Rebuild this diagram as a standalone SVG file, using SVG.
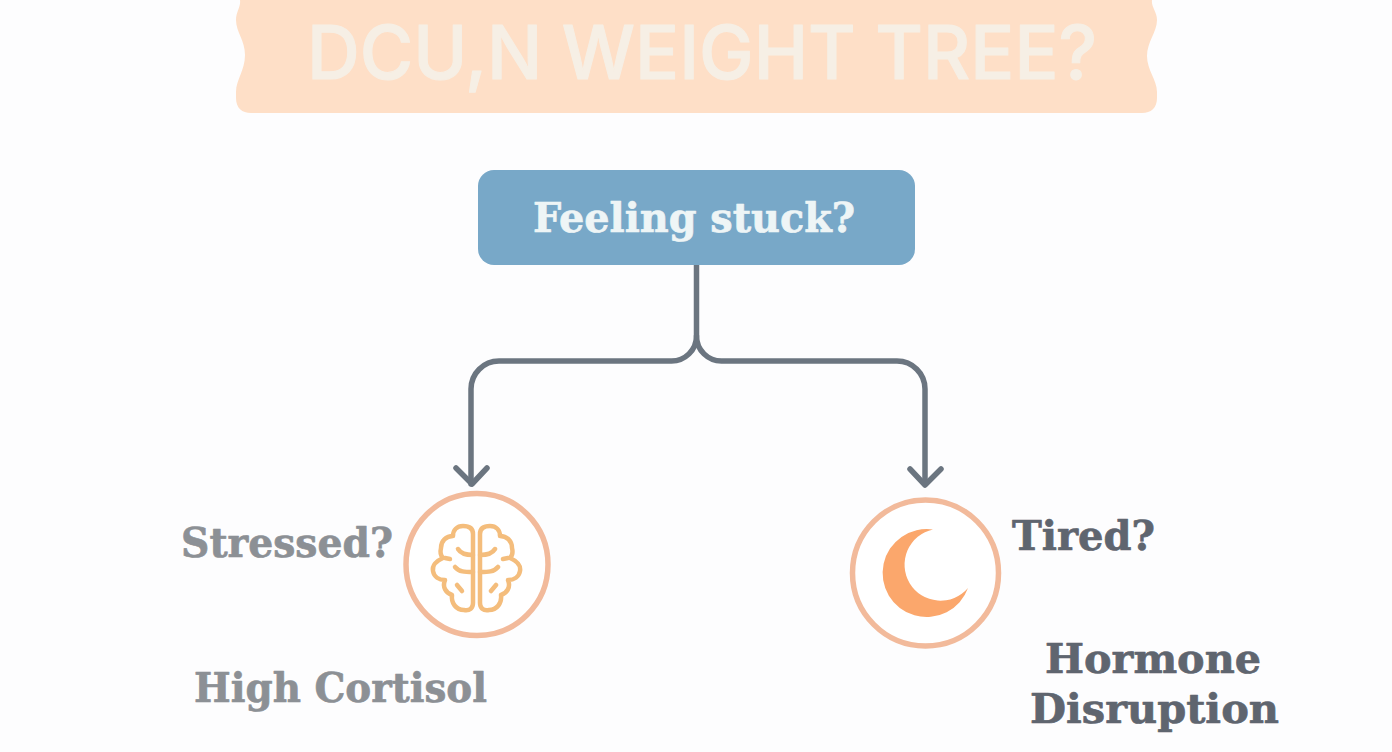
<svg xmlns="http://www.w3.org/2000/svg" width="1392" height="752" viewBox="0 0 1392 752">
<defs>
<style>
.slab{font-family:"DejaVu Serif","Liberation Serif",serif;font-weight:700;stroke-width:.7;stroke-linejoin:round}
.grey{fill:#8c9095;stroke:#8c9095}
.dark{fill:#5f656f;stroke:#5f656f}
.conn{fill:none;stroke:#6b7580;stroke-width:5.500;stroke-linecap:round;stroke-linejoin:round}
.ring{fill:#fff;stroke:#f2ba9b;stroke-width:5.500}
.brain{fill:none;stroke:#f4bd7c;stroke-width:4.500;stroke-linecap:round;stroke-linejoin:round}
</style>
<g id="half">
<path d="M473 534C473 528 469 526 463 526C457 526 453 530 453 536C446 536 441 541 441 548C440 552 441 556 443 558C436 561 432 566 433 571C434 577 439 580 445 580C442 587 446 593 452 595C451 603 456 610 464 610C470 611 473 608 473 603Z"/>
<path d="M458 549C461 554 466 555 473 555M455 567C459 572 465 572 473 572M457 585L462 591M445 558L450 559"/>
</g>
</defs>
<rect width="1392" height="752" fill="#fdfdfe"/>
<g id="title">
<path d="M240 0H1152C1151 7 1157 12 1157 20C1157 32 1147 42 1147 56C1147 70 1157 80 1157 92V98C1157 108 1151 113 1142 113H251C242 113 236 108 236 98V92C236 80 245 70 245 55C245 40 236 32 236 20C236 12 241 7 240 0Z" fill="#fedfc7"/>
<text x="307" y="79" font-family="Inter,'Liberation Sans',sans-serif" font-size="74" font-weight="500" fill="#f6efe5" stroke="#f6efe5" stroke-width="1" stroke-linejoin="round" textLength="790" lengthAdjust="spacingAndGlyphs">DCU,N WEIGHT TREE?</text>
</g>
<g id="connectors">
<path class="conn" d="M696.500 265V336A25 25 0 0 1 671 361H499A28 28 0 0 0 471 389V484"/>
<path class="conn" d="M696.500 336A25 25 0 0 0 722 361H897A28 28 0 0 1 925 389V484"/>
<path class="conn" d="M456 468L472 484L487 468"/>
<path class="conn" d="M910 469L925 485L941 469"/>
</g>
<g id="node-start">
<rect x="478" y="170" width="437" height="95" rx="16" fill="#78a8c8"/>
<text class="slab" x="533" y="232" font-size="41" fill="#eef5f6" stroke="#eef5f6" textLength="322" lengthAdjust="spacingAndGlyphs">Feeling stuck?</text>
</g>
<g id="node-stressed">
<circle class="ring" cx="477" cy="564.500" r="71"/>
<g class="brain"><use href="#half"/><use href="#half" transform="matrix(-1 0 0 1 953 0)"/></g>
<text class="slab grey" x="181" y="557" font-size="41" textLength="212" lengthAdjust="spacingAndGlyphs">Stressed?</text>
<text class="slab grey" x="194" y="702" font-size="41" textLength="293" lengthAdjust="spacingAndGlyphs">High Cortisol</text>
</g>
<g id="node-tired">
<circle class="ring" cx="925.500" cy="573" r="73"/>
<path d="M933 529.500A44 44 0 1 0 968 588A36 36 0 1 1 933 529.500Z" fill="#fba76c"/>
<text class="slab dark" x="1012" y="550" font-size="41" textLength="143" lengthAdjust="spacingAndGlyphs">Tired?</text>
<text class="slab dark" x="1045" y="673" font-size="41" textLength="216" lengthAdjust="spacingAndGlyphs">Hormone</text>
<text class="slab dark" x="1030" y="723" font-size="41" textLength="249" lengthAdjust="spacingAndGlyphs">Disruption</text>
</g>
</svg>
